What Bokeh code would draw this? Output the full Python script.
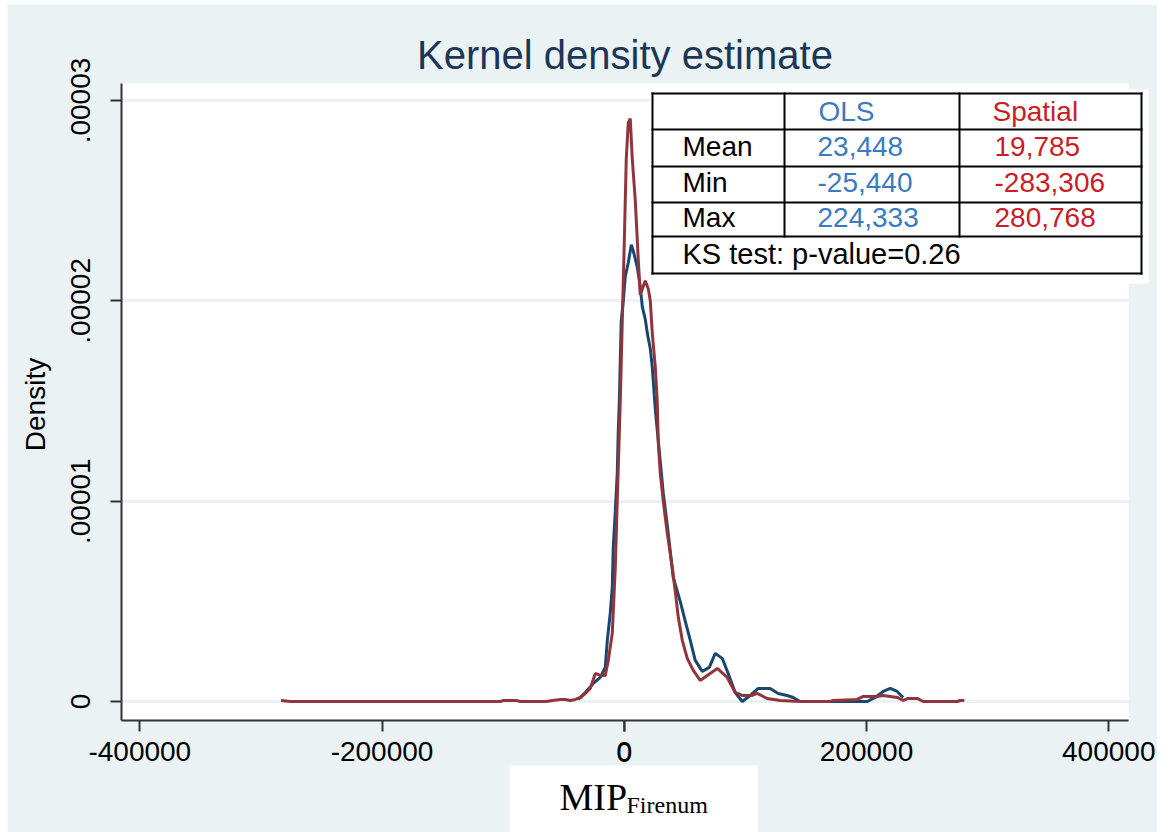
import math
from bokeh.plotting import figure
from bokeh.models import (FixedTicker, Label, BoxAnnotation, Range1d, AllLabels,
                          CustomJSTickFormatter)
from bokeh.embed import file_html
from bokeh.resources import INLINE

# ---------------- data ----------------
ols_x = [-38000, -32200, -25600, -19800, -15700, -14000, -11600, -9900, -9100, -7400,
         -5800, -5000, -4100, -2500, -800, 800, 3300, 5800, 7400, 10700,
         13200, 14900, 17300, 19000, 21500, 23100, 25600, 28100, 29700, 32200,
         35500, 40400, 46200, 50400, 54500, 58600, 64400, 70200, 75100, 80900,
         85800, 91600, 97400, 104000, 110600, 120500, 127100, 134500, 139500, 145300,
         200600, 207200, 213800, 219600, 225300, 230300]
ols_y = [0.1e-6, 0.45e-6, 0.9e-6, 1.2e-6, 1.7e-6, 3.05e-6, 4.4e-6, 5.7e-6, 7.7e-6, 9.5e-6,
         11.4e-6, 13.4e-6, 15.0e-6, 19.0e-6, 20.0e-6, 21.2e-6, 21.9e-6, 22.8e-6, 22.5e-6, 21.7e-6,
         20.7e-6, 19.7e-6, 19.1e-6, 18.4e-6, 17.6e-6, 16.7e-6, 14.6e-6, 13.0e-6, 12.0e-6, 10.4e-6,
         8.8e-6, 6.2e-6, 5.0e-6, 4.0e-6, 3.05e-6, 2.05e-6, 1.5e-6, 1.7e-6, 2.4e-6, 2.15e-6,
         1.4e-6, 0.45e-6, 0.0, 0.3e-6, 0.65e-6, 0.65e-6, 0.4e-6, 0.3e-6, 0.2e-6, 0.0,
         0.0, 0.2e-6, 0.5e-6, 0.65e-6, 0.5e-6, 0.2e-6]

spatial_x = [-283306, -275700, -102400, -99900, -89100, -85800, -64400, -59400, -52800, -48700,
             -44600, -40400, -36300, -32200, -28100, -23900, -19800, -15700, -13200, -9900,
             -7400, -5800, -3300, -1650, 0, 1650, 3300, 4950, 6600, 9100,
             11600, 13200, 17300, 19800, 21500, 23100, 25600, 27200, 28100, 29700,
             32200, 35500, 39600, 42100, 44600, 47900, 52000, 57000, 62700, 68500,
             76800, 85000, 91600, 97400, 105700, 109800, 118000, 128800, 145300, 170000,
             172500, 192300, 197300, 208800, 213800, 225300, 230300, 234400, 241800, 246800,
             274900, 277300, 280768]
spatial_y = [0.05e-6, 0.0, 0.0, 0.05e-6, 0.05e-6, 0.0, 0.0, 0.05e-6, 0.1e-6, 0.1e-6,
             0.05e-6, 0.1e-6, 0.2e-6, 0.4e-6, 0.65e-6, 1.4e-6, 1.3e-6, 1.3e-6, 2.05e-6, 3.4e-6,
             6.7e-6, 10.0e-6, 15.0e-6, 19.0e-6, 22.9e-6, 27.1e-6, 28.9e-6, 29.1e-6, 27.1e-6, 25.0e-6,
             22.0e-6, 20.3e-6, 21.0e-6, 20.6e-6, 20.0e-6, 18.4e-6, 16.7e-6, 15.0e-6, 12.9e-6, 11.4e-6,
             10.0e-6, 8.4e-6, 6.7e-6, 5.5e-6, 4.2e-6, 3.05e-6, 2.15e-6, 1.55e-6, 1.05e-6, 1.3e-6,
             1.65e-6, 1.2e-6, 0.45e-6, 0.3e-6, 0.3e-6, 0.4e-6, 0.15e-6, 0.05e-6, 0.0, 0.0,
             0.05e-6, 0.1e-6, 0.25e-6, 0.25e-6, 0.3e-6, 0.2e-6, 0.05e-6, 0.15e-6, 0.15e-6, 0.0,
             0.0, 0.05e-6, 0.05e-6]

x_ticks = [-400000, -200000, 0, 200000, 400000]
x_tick_labels = ["-400000", "-200000", "0", "200000", "400000"]
y_ticks = [0, 0.00001, 0.00002, 0.00003]
y_tick_labels = ["0", ".00001", ".00002", ".00003"]

title_text = "Kernel density estimate"
y_label = "Density"
x_label_main = "MIP"
x_label_sub = "Firenum"

table_header = ["OLS", "Spatial"]
table_rows = ["Mean", "Min", "Max"]
ols_stats = ["23,448", "-25,440", "224,333"]
spatial_stats = ["19,785", "-283,306", "280,768"]
ks_text = "KS test: p-value=0.26"

# ---------------- layout ----------------
BG = "#eaf2f3"
NAVY = "#1a476f"
MAROON = "#90353b"
OLS_TXT = "#3b7bbf"
SP_TXT = "#c81e28"
AXIS_COLOR = "#333333"
FONT = "Liberation Sans"
SERIF = "Liberation Serif"

CL, CR, CT, CB = 7, 1157, 4, 832          # figure canvas on the page
FL, FR, FT, FB = 121, 1128, 83, 720        # plot region (white area)
X0, X1 = -415100, 416300                   # data limits of the plot region
Y0, Y1 = -0.95e-6, 30.85e-6

SX = (X1 - X0) / (FR - FL)
SY = (Y1 - Y0) / (FB - FT)


def dx(px):
    return X0 + (px - FL) * SX


def dy(py):
    return Y1 - (py - FT) * SY


W, H = CR - CL, CB - CT
p = figure(width=W, height=H,
           x_range=Range1d(dx(CL), dx(CR)), y_range=Range1d(dy(CB), dy(CT)),
           output_backend="svg", toolbar_location=None, title=None,
           min_border_left=0, min_border_right=0, min_border_top=0, min_border_bottom=0)
p.margin = (CT, 1170 - CR, 832 - CB, CL)
p.background_fill_color = BG
p.border_fill_color = BG
p.outline_line_color = None

# white plot region
p.add_layout(BoxAnnotation(left=X0, right=X1, bottom=Y0, top=Y1, fill_color="white",
                           fill_alpha=1, line_alpha=0, level="image"))

p.xgrid.visible = False
p.ygrid.ticker = FixedTicker(ticks=y_ticks)
p.ygrid.grid_line_color = BG
p.ygrid.grid_line_width = 3
p.ygrid.bounds = (X0, X1)


def fmt(vals, labels):
    return CustomJSTickFormatter(
        args=dict(tick_vals=vals, tick_texts=labels),
        code="""
        let best = 0, bd = Infinity
        for (let i = 0; i < tick_vals.length; i++) {
            const d = Math.abs(tick_vals[i] - tick)
            if (d < bd) { bd = d; best = i }
        }
        return tick_texts[best]
        """)


p.xaxis.ticker = FixedTicker(ticks=x_ticks)
p.xaxis.formatter = fmt(x_ticks, x_tick_labels)
p.xaxis.fixed_location = Y0
p.xaxis.bounds = (X0, X1)
p.yaxis.ticker = FixedTicker(ticks=y_ticks)
p.yaxis.formatter = fmt(y_ticks, y_tick_labels)
p.yaxis.major_label_orientation = "vertical"
p.yaxis.fixed_location = X0
p.yaxis.bounds = (Y0, Y1)
for ax in (p.xaxis[0], p.yaxis[0]):
    ax.major_label_policy = AllLabels()
    ax.axis_line_color = AXIS_COLOR
    ax.axis_line_width = 2
    ax.major_tick_line_color = AXIS_COLOR
    ax.major_tick_line_width = 2
    ax.major_tick_out = 11
    ax.major_tick_in = 0
    ax.minor_tick_out = 0
    ax.minor_tick_in = 0
    ax.major_label_text_font = FONT
    ax.major_label_text_font_size = "28px"
    ax.major_label_text_color = "black"
p.xaxis.major_label_standoff = 10
p.yaxis.major_label_standoff = 20

p.line(ols_x, ols_y, line_color=NAVY, line_width=3)
p.line(spatial_x, spatial_y, line_color=MAROON, line_width=3)

# the axis skips the tick where x = 0 when it is drawn at a fixed location,
# so that one tick and its label are added here from the same tick lists
zero_i = x_ticks.index(0)
half_px = 1 * SX
p.add_layout(BoxAnnotation(left=x_ticks[zero_i] - half_px, right=x_ticks[zero_i] + half_px,
                           top=dy(FB), bottom=dy(FB + 11), fill_color=AXIS_COLOR,
                           fill_alpha=1, line_alpha=0))
p.add_layout(Label(x=x_ticks[zero_i], y=dy(763 - 0.39 * 28), text=x_tick_labels[zero_i],
                   text_align="center", text_baseline="middle", text_font=FONT,
                   text_font_size="28px", text_color="black"))


def label(px, py, text, color, size, font=FONT, align="left", angle=0.0, k=0.39):
    # py is the text baseline on the page; anchor at the middle of the text box
    if angle:
        x, y = dx(px - k * size), dy(py)
    else:
        x, y = dx(px), dy(py - k * size)
    p.add_layout(Label(x=x, y=y, text=text, text_align=align, text_baseline="middle",
                       text_font=font, text_font_size=f"{size}px", text_color=color,
                       angle=angle))


# title
label((FL + FR) / 2, 70, title_text, "#1c3657", 40, align="center")
# y label
label(46, 404, y_label, "black", 28, align="center", angle=math.pi / 2)

# x label box
p.add_layout(BoxAnnotation(left=dx(509), right=dx(757), top=dy(765), bottom=dy(CB + 5),
                           fill_color="white", fill_alpha=1, line_alpha=0))
label(559, 810, x_label_main, "black", 38, font=SERIF, k=0.36)
label(626, 813, x_label_sub, "black", 24, font=SERIF, k=0.36)

# table
p.add_layout(BoxAnnotation(left=dx(650), right=dx(1148), top=dy(89), bottom=dy(283),
                           fill_color="white", fill_alpha=1, line_alpha=0))
TX = [652, 784, 959, 1141]
TY = [93, 129, 166, 202, 236, 273]


def rect(l, r, t, b):
    p.add_layout(BoxAnnotation(left=dx(l), right=dx(r), top=dy(t), bottom=dy(b),
                               fill_color="black", fill_alpha=1, line_alpha=0))


for yy in TY:
    rect(TX[0] - 1, TX[-1] + 1, yy - 1, yy + 1)
for xx in (TX[0], TX[-1]):
    rect(xx - 1, xx + 1, TY[0] - 1, TY[-1] + 1)
for xx in (TX[1], TX[2]):
    rect(xx - 1, xx + 1, TY[0] - 1, TY[-2] + 1)

baselines = [122, 157, 193, 228]
label(818, baselines[0], table_header[0], OLS_TXT, 28)
label(992, baselines[0], table_header[1], SP_TXT, 28)
for i, name in enumerate(table_rows):
    label(682, baselines[i + 1], name, "black", 28)
    label(817, baselines[i + 1], ols_stats[i], OLS_TXT, 28)
    label(994, baselines[i + 1], spatial_stats[i], SP_TXT, 28)
label(682, 265, ks_text, "black", 29)

open("out.html", "w").write(file_html(p, INLINE))
